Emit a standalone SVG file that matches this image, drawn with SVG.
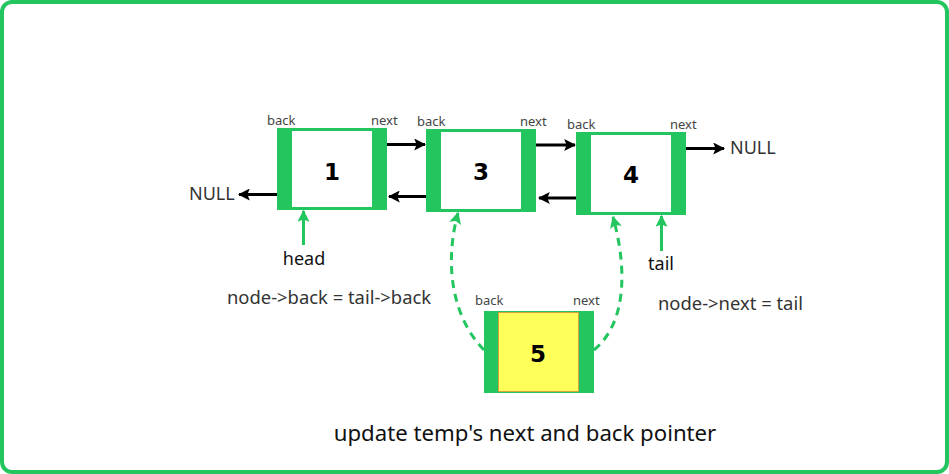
<svg xmlns="http://www.w3.org/2000/svg" width="949" height="474" viewBox="0 0 949 474">
<style>
.frame{fill:#fff;stroke:#22c55e;stroke-width:4}
.outer{fill:#22c55e}
.inner{fill:#fff}
.yel{fill:#ffff5a;stroke:#e8903a;stroke-width:0.8}
.lbl{font-family:"Noto Sans",sans-serif;font-size:13px;fill:#444}
.num{font-family:"DejaVu Sans",sans-serif;font-weight:bold;font-size:23px;fill:#000;text-anchor:middle}
.txt{font-family:"Noto Sans",sans-serif;font-size:18px;fill:#333}
.title{font-family:"Noto Sans",sans-serif;font-size:22.2px;fill:#111;text-anchor:middle}
.blk{stroke:#000;stroke-width:3;fill:none}
.grn{stroke:#22c55e;stroke-width:3;fill:none}
.dash{stroke:#22c55e;stroke-width:3;fill:none;stroke-dasharray:8,6}
</style>
<defs>
<marker id="ab" viewBox="0 0 10 10" refX="9" refY="5" markerWidth="4" markerHeight="4" orient="auto" markerUnits="strokeWidth"><path d="M0,0 L10,5 L0,10 L2,5 z" fill="#000"/></marker>
<marker id="ag" viewBox="0 0 10 10" refX="9" refY="5" markerWidth="4" markerHeight="4" orient="auto" markerUnits="strokeWidth"><path d="M0,0 L10,5 L0,10 L2,5 z" fill="#22c55e"/></marker>
</defs>
<rect class="frame" x="2" y="2" width="945" height="470" rx="10"/>
<g id="node1">
<rect class="outer" x="277" y="128" width="110" height="82"/>
<rect class="inner" x="292" y="131" width="80" height="76"/>
<text class="num" x="332" y="180">1</text>
<text class="lbl" x="267" y="125">back</text>
<text class="lbl" x="371" y="125">next</text>
</g>
<g id="node3">
<rect class="outer" x="426" y="129" width="110" height="83"/>
<rect class="inner" x="441" y="132" width="80" height="77"/>
<text class="num" x="481" y="180">3</text>
<text class="lbl" x="417" y="126">back</text>
<text class="lbl" x="520" y="126">next</text>
</g>
<g id="node4">
<rect class="outer" x="576" y="132" width="110" height="83"/>
<rect class="inner" x="591" y="135" width="80" height="77"/>
<text class="num" x="631" y="183">4</text>
<text class="lbl" x="567" y="129">back</text>
<text class="lbl" x="670" y="129">next</text>
</g>
<g id="node5">
<rect class="outer" x="484" y="311" width="110" height="82"/>
<rect class="yel" x="498.5" y="312.5" width="80" height="79"/>
<text class="num" x="538" y="362">5</text>
<text class="lbl" x="475" y="305">back</text>
<text class="lbl" x="573" y="305">next</text>
</g>
<g id="null-left"><text class="txt" x="189" y="200">NULL</text></g>
<g id="null-right"><text class="txt" x="730" y="154">NULL</text></g>
<g id="head"><text class="txt" x="304" y="265" text-anchor="middle" style="fill:#111">head</text></g>
<g id="tail"><text class="txt" x="661" y="270" text-anchor="middle" style="fill:#111">tail</text></g>
<g id="captions">
<text class="txt" x="227" y="304" style="font-size:18.4px">node-&gt;back = tail-&gt;back</text>
<text class="txt" x="658" y="310" style="font-size:18.4px">node-&gt;next = tail</text>
<text class="title" x="525" y="441">update temp's next and back pointer</text>
</g>
<g id="connectors">
<line class="blk" x1="387" y1="144.5" x2="425" y2="144.5" marker-end="url(#ab)"/>
<line class="blk" x1="426" y1="196.5" x2="389" y2="196.5" marker-end="url(#ab)"/>
<line class="blk" x1="277" y1="194.5" x2="239" y2="194.5" marker-end="url(#ab)"/>
<line class="blk" x1="536" y1="145" x2="575" y2="145" marker-end="url(#ab)"/>
<line class="blk" x1="576" y1="198" x2="539" y2="198" marker-end="url(#ab)"/>
<line class="blk" x1="686" y1="148.5" x2="724" y2="148.5" marker-end="url(#ab)"/>
<line class="grn" x1="303.5" y1="245" x2="303.5" y2="211" marker-end="url(#ag)"/>
<line class="grn" x1="661.5" y1="251" x2="661.5" y2="216" marker-end="url(#ag)"/>
<path class="dash" d="M484,350 C450,315 445,260 458,213" marker-end="url(#ag)"/>
<path class="dash" d="M594,350 C630,320 625,260 613,217" marker-end="url(#ag)"/>
</g>
</svg>
